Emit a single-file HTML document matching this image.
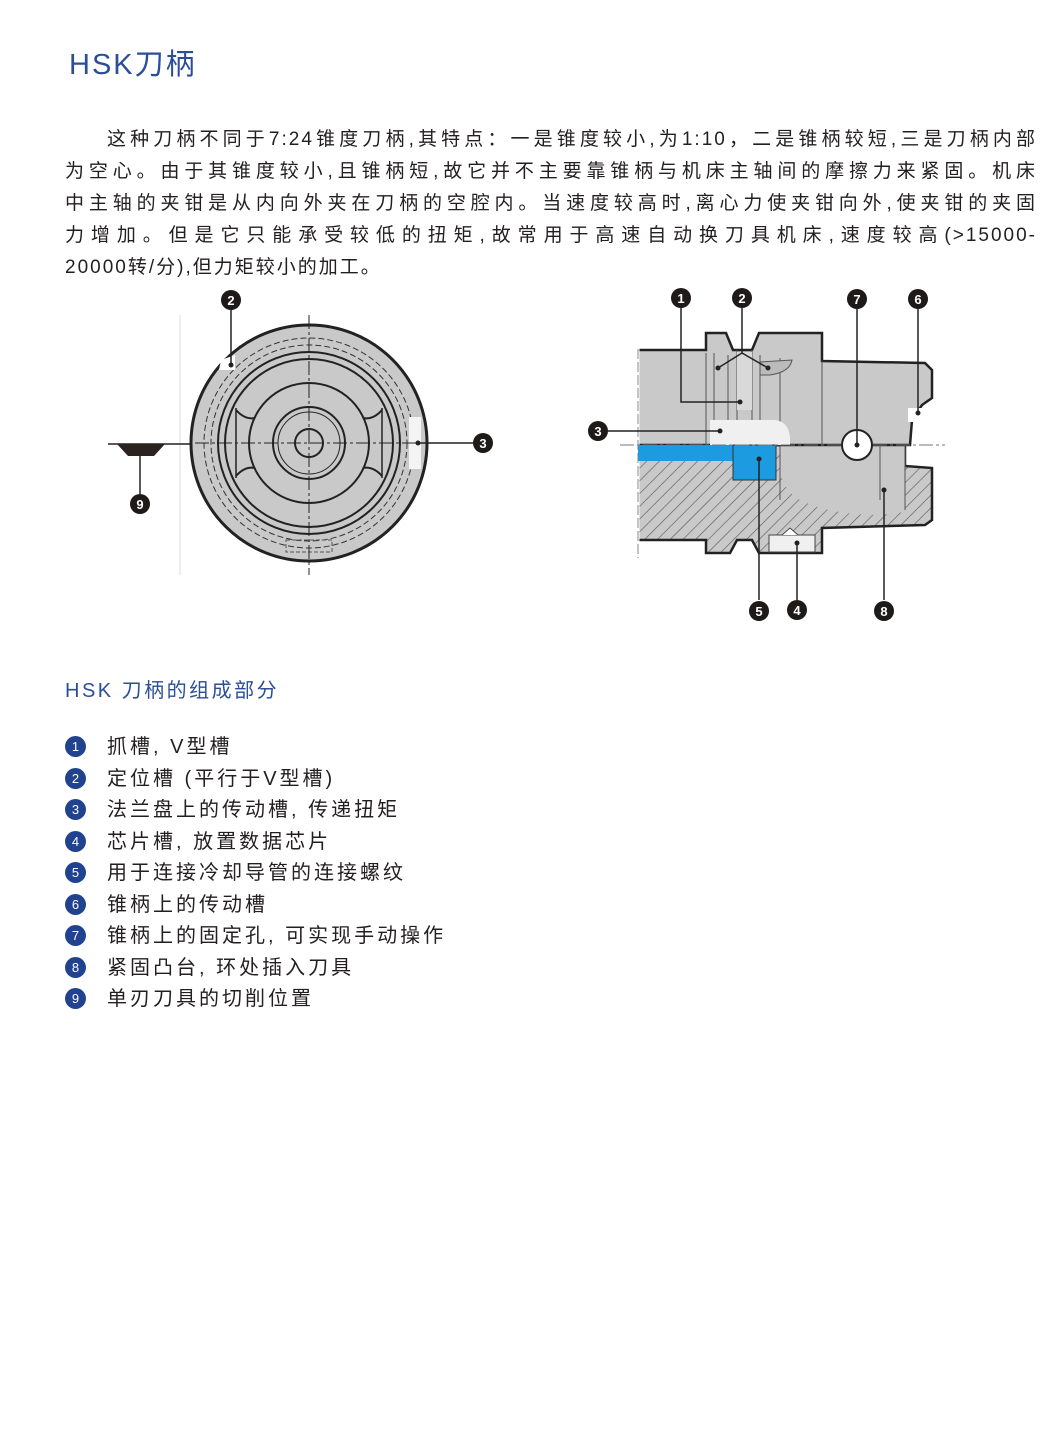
<!DOCTYPE html>
<html><head><meta charset="utf-8"><style>
body{margin:0;background:#fff;}
#p{position:relative;width:1052px;height:1451px;overflow:hidden;font-family:"Liberation Sans","Noto Sans CJK SC",sans-serif;color:#231f20;}
.t{position:absolute;left:69px;top:41px;font-size:29px;color:#2b4e9b;letter-spacing:2px;}
.ln{position:absolute;left:65px;width:972px;font-size:19px;text-align:justify;text-align-last:justify;white-space:nowrap;height:24px;line-height:24px;}
.h2{position:absolute;left:65px;top:674px;font-size:20px;color:#2b4e9b;letter-spacing:2.5px;}
.li{position:absolute;left:65px;font-size:20px;letter-spacing:3px;height:26px;line-height:26px;}
.li b{position:absolute;left:0;top:2px;width:21px;height:21px;border-radius:50%;background:#21428f;color:#fff;font-weight:normal;font-size:13px;text-align:center;line-height:21px;letter-spacing:0;}
.li span{position:absolute;left:42px;white-space:nowrap;}
</style></head><body><div id="p">
<div class="t">HSK刀柄</div>
<div class="ln" style="top:128px;left:107px;width:930px;letter-spacing:2px">这种刀柄不同于7:24锥度刀柄,其特点：一是锥度较小,为1:10，二是锥柄较短,三是刀柄内部</div>
<div class="ln" style="top:160px;letter-spacing:2px">为空心。由于其锥度较小,且锥柄短,故它并不主要靠锥柄与机床主轴间的摩擦力来紧固。机床</div>
<div class="ln" style="top:192px;letter-spacing:2px">中主轴的夹钳是从内向外夹在刀柄的空腔内。当速度较高时,离心力使夹钳向外,使夹钳的夹固</div>
<div class="ln" style="top:224px;letter-spacing:2px">力增加。但是它只能承受较低的扭矩,故常用于高速自动换刀具机床,速度较高(&gt;15000-</div>
<div class="ln" style="top:256px;letter-spacing:2px;text-align-last:left;width:auto">20000转/分),但力矩较小的加工。</div>

<svg style="position:absolute;left:0;top:0" width="1052" height="640" font-family="Liberation Sans,sans-serif">
<defs><pattern id="h" width="9" height="9" patternUnits="userSpaceOnUse" patternTransform="rotate(45)"><rect width="9" height="9" fill="#c9c9c9"/><line x1="0" y1="0" x2="0" y2="9" stroke="#555" stroke-width="1.2"/></pattern></defs>
<line x1="180" y1="315" x2="180" y2="575" stroke="#ddd"/>
<circle cx="309" cy="443" r="118" fill="#c9c9c9" stroke="#222" stroke-width="3"/>
<circle cx="309" cy="443" r="105" fill="none" stroke="#333" stroke-dasharray="6 3"/>
<circle cx="309" cy="443" r="98" fill="none" stroke="#333" stroke-dasharray="6 3"/>
<circle cx="309" cy="443" r="91" fill="none" stroke="#222" stroke-width="2"/>
<circle cx="309" cy="443" r="84" fill="none" stroke="#222" stroke-width="2"/>
<circle cx="309" cy="443" r="60" fill="none" stroke="#222" stroke-width="2"/>
<circle cx="309" cy="443" r="36" fill="none" stroke="#222" stroke-width="2"/>
<circle cx="309" cy="443" r="31" fill="none" stroke="#222" stroke-width="1"/>
<circle cx="309" cy="443" r="14" fill="none" stroke="#222" stroke-width="2"/>
<path d="M236 410 Q245 420 255 418 M382 410 Q373 420 363 418 M236 476 Q245 466 255 468 M382 476 Q373 466 363 468" stroke="#222" stroke-width="2" fill="none"/>
<path d="M236 408 L236 478 M382 408 L382 478" stroke="#222" stroke-width="1.5"/>
<rect x="409" y="417" width="12" height="52" fill="#f4f4f4"/>
<path d="M221 360 L235 355 L235 370 L219 370Z" fill="#fff"/>
<rect x="286" y="540" width="46" height="12" fill="none" stroke="#555" stroke-dasharray="4 2"/>
<path d="M309 315 V575 M195 443 H425" stroke="#222" stroke-dasharray="14 3 3 3"/>
<line x1="108" y1="444" x2="190" y2="444" stroke="#222" stroke-width="1.5"/>
<path d="M117 444 L165 444 L154 456 L128 456Z" fill="#2a2320"/>
<line x1="140" y1="456" x2="140" y2="494" stroke="#222" stroke-width="1.5"/>
<line x1="231" y1="310" x2="231" y2="365" stroke="#222" stroke-width="1.5"/><circle cx="231" cy="365" r="2.5" fill="#222"/>
<line x1="473" y1="443" x2="418" y2="443" stroke="#222" stroke-width="1.5"/><circle cx="418" cy="443" r="2.5" fill="#222"/>
<path d="M638 540 L706 540 L706 553 L730 553 L737 540 L752 540 L759 553 L822 553 L822 528 L925 525 L932 520 L932 468 L905 466 L905 445 L638 445Z" fill="url(#h)" stroke="#222" stroke-width="2.5"/>
<path d="M775 445 L905 445 L905 512 L880 515 Q830 515 800 500 Q783 490 780 470 L780 445Z" fill="#c9c9c9"/>
<path d="M638 350 L706 350 L706 333 L726 333 L733 350 L752 350 L759 333 L822 333 L822 361 L925 363 L932 370 L932 398 L922 405 L912 420 L910 445 L638 445Z" fill="#c9c9c9" stroke="#222" stroke-width="2.5"/>
<line x1="638" y1="347" x2="638" y2="560" stroke="#fff" stroke-width="3"/>
<path d="M638 349 V558" stroke="#888" stroke-dasharray="10 3"/>
<path d="M706 353 V445 M714 353 V420 M728 355 V420 M737 350 V420 M752 350 V420 M760 355 V420 M780 358 V500 M822 361 V445 M880 445 V500 M905 445 V510" stroke="#555" stroke-width="1"/>
<path d="M737 352 H752 V410 H737Z" fill="#d9d9d9"/>
<path d="M760 362 L792 360 Q790 372 770 375 L760 375Z" fill="#bbb" stroke="#555"/>
<path d="M710 420 L775 420 Q790 422 790 440 L790 445 L710 445Z" fill="#f0f0f0"/>
<rect x="638" y="445" width="100" height="16" fill="#1c9be0"/>
<rect x="733" y="445" width="43" height="35" fill="#1c9be0" stroke="#333"/>
<rect x="908" y="408" width="22" height="14" fill="#fff"/>
<rect x="769" y="535" width="46" height="17" fill="#f0f0f0" stroke="#444"/>
<path d="M782 535 L790 528 L798 535" fill="#fff" stroke="#444"/>
<line x1="620" y1="445" x2="945" y2="445" stroke="#777" stroke-dasharray="14 3 3 3"/>
<circle cx="857" cy="445" r="15" fill="#fff" stroke="#222" stroke-width="2"/>
<g stroke="#222" stroke-width="1.5" fill="none">
<path d="M681 308 V402 H740"/><path d="M742 308 V353 L718 368 M742 353 L768 368"/>
<path d="M857 309 V445"/><path d="M918 309 V413"/><path d="M608 431 H720"/>
<path d="M759 600 V459"/><path d="M797 600 V543"/><path d="M884 600 V490"/></g>
<g fill="#222"><circle cx="740" cy="402" r="2.5"/><circle cx="718" cy="368" r="2.5"/><circle cx="768" cy="368" r="2.5"/><circle cx="857" cy="445" r="2.5"/><circle cx="918" cy="413" r="2.5"/><circle cx="720" cy="431" r="2.5"/><circle cx="759" cy="459" r="2.5"/><circle cx="797" cy="543" r="2.5"/><circle cx="884" cy="490" r="2.5"/></g>
<g font-size="13" font-weight="bold" fill="#fff" text-anchor="middle">
<circle cx="231" cy="300" r="10" fill="#1d1a18"/><text x="231" y="305">2</text>
<circle cx="483" cy="443" r="10" fill="#1d1a18"/><text x="483" y="448">3</text>
<circle cx="140" cy="504" r="10" fill="#1d1a18"/><text x="140" y="509">9</text>
<circle cx="681" cy="298" r="10" fill="#1d1a18"/><text x="681" y="303">1</text>
<circle cx="742" cy="298" r="10" fill="#1d1a18"/><text x="742" y="303">2</text>
<circle cx="857" cy="299" r="10" fill="#1d1a18"/><text x="857" y="304">7</text>
<circle cx="918" cy="299" r="10" fill="#1d1a18"/><text x="918" y="304">6</text>
<circle cx="598" cy="431" r="10" fill="#1d1a18"/><text x="598" y="436">3</text>
<circle cx="759" cy="611" r="10" fill="#1d1a18"/><text x="759" y="616">5</text>
<circle cx="797" cy="610" r="10" fill="#1d1a18"/><text x="797" y="615">4</text>
<circle cx="884" cy="611" r="10" fill="#1d1a18"/><text x="884" y="616">8</text>
</g></svg>

<div class="h2">HSK 刀柄的组成部分</div>
<div class="li" style="top:734px"><b>1</b><span>抓槽, V型槽</span></div>
<div class="li" style="top:766px"><b>2</b><span>定位槽 (平行于V型槽)</span></div>
<div class="li" style="top:797px"><b>3</b><span>法兰盘上的传动槽, 传递扭矩</span></div>
<div class="li" style="top:829px"><b>4</b><span>芯片槽, 放置数据芯片</span></div>
<div class="li" style="top:860px"><b>5</b><span>用于连接冷却导管的连接螺纹</span></div>
<div class="li" style="top:892px"><b>6</b><span>锥柄上的传动槽</span></div>
<div class="li" style="top:923px"><b>7</b><span>锥柄上的固定孔, 可实现手动操作</span></div>
<div class="li" style="top:955px"><b>8</b><span>紧固凸台, 环处插入刀具</span></div>
<div class="li" style="top:986px"><b>9</b><span>单刃刀具的切削位置</span></div>
</div></body></html>
